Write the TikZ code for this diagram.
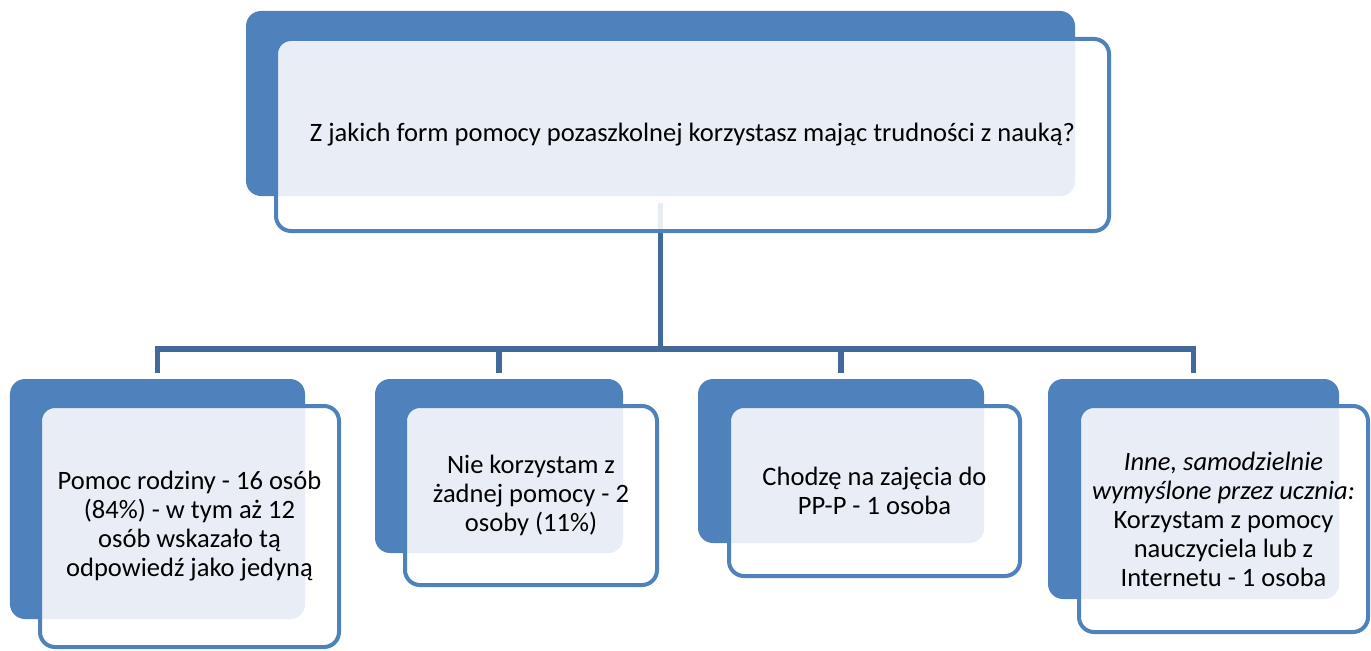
\documentclass[tikz,border=0pt]{standalone}
\usepackage{fontspec}
\setmainfont{Carlito}
\definecolor{accent}{HTML}{4F81BD}
\definecolor{linkblue}{HTML}{41699C}
\definecolor{tint}{HTML}{E9EEF6}

\begin{document}
\begin{tikzpicture}[
      back/.style={rectangle,rounded corners=0.3cm,fill=accent,inner sep=0pt,outer sep=0pt},
      card/.style={rectangle,rounded corners=0.3cm,draw=accent,line width=0.08cm,
        fill=white,fill opacity=0.88,text opacity=1,inner sep=0pt,outer sep=0pt,
        align=center,font=\fontsize{15.1}{16.5}\selectfont},
      tinted/.style={path picture={\fill[tint,fill opacity=1,rounded corners=0.3cm]
        (#1.north west) rectangle (#1.south east);}},
      link/.style={draw=linkblue,line width=0.11cm,shorten <=0.14cm,shorten >=0.12cm}]
      \useasboundingbox[fill=white] (0,0) rectangle (27.42,-13.02);
      % back plates
      \node[back,minimum width=16.58cm,minimum height=3.70cm] (b0) at (13.21,-2.07) {};
      \node[back,minimum width=5.90cm,minimum height=4.80cm] (b1) at (3.15,-9.98) {};
      \node[back,minimum width=4.96cm,minimum height=3.48cm] (b2) at (9.98,-9.32) {};
      \node[back,minimum width=5.72cm,minimum height=3.28cm] (b3) at (16.82,-9.22) {};
      \node[back,minimum width=5.82cm,minimum height=4.40cm] (b4) at (23.87,-9.78) {};
      % tree lines
      \draw[link] (b0.south) -- ++(0,-3.06) -| (b1.north);
      \draw[link] (b0.south) -- ++(0,-3.06) -| (b2.north);
      \draw[link] (b0.south) -- ++(0,-3.06) -| (b3.north);
      \draw[link] (b0.south) -- ++(0,-3.06) -| (b4.north);
      % cards
      \node[card,tinted=b0,minimum width=16.66cm,minimum height=3.84cm] (f0) at (13.85,-2.70)
        {Z jakich form pomocy pozaszkolnej korzystasz mając trudności z nauką?};
      \node[card,tinted=b1,minimum width=5.98cm,minimum height=4.82cm] (f1) at (3.79,-10.53)
        {Pomoc rodziny - 16 osób\\(84\%) - w tym aż 12\\osób wskazało tą\\odpowiedź jako jedyną};
      \node[card,tinted=b2,minimum width=5.04cm,minimum height=3.58cm] (f2) at (10.62,-9.91)
        {Nie korzystam z\\żadnej pomocy - 2\\osoby (11\%)};
      \node[card,tinted=b3,minimum width=5.82cm,minimum height=3.40cm] (f3) at (17.49,-9.82)
        {Chodzę na zajęcia do\\PP-P - 1 osoba};
      \node[card,tinted=b4,minimum width=5.78cm,minimum height=4.52cm] (f4) at (24.47,-10.38)
        {\textit{Inne, samodzielnie}\\\textit{wymyślone przez ucznia:}\\Korzystam z pomocy\\nauczyciela lub z\\Internetu - 1 osoba};
\end{tikzpicture}
\end{document}
